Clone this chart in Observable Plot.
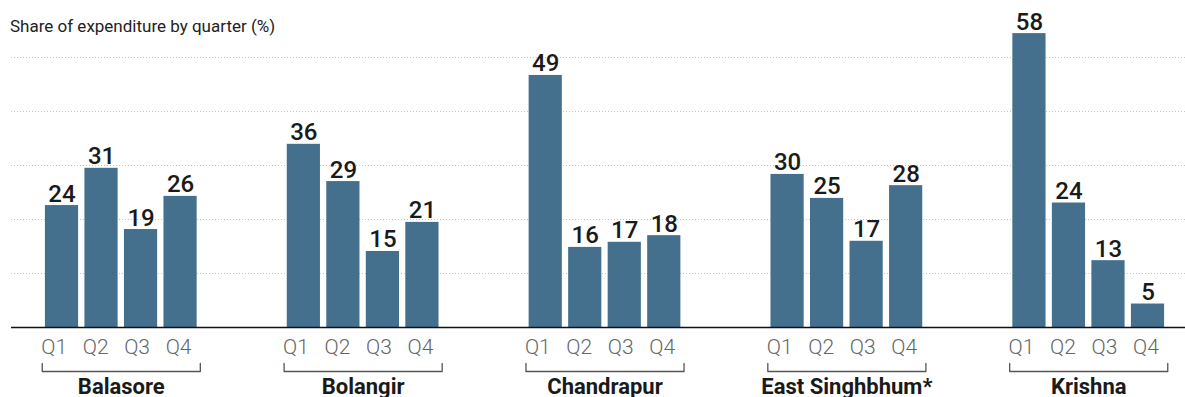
<!DOCTYPE html>
<html>
<head>
<meta charset="utf-8">
<script src="https://cdn.jsdelivr.net/npm/d3@7"></script>
<script src="https://cdn.jsdelivr.net/npm/@observablehq/plot@0.6"></script>
<style>
  body { margin: 0; background: #fff; }
  #chart { position: relative; width: 1185px; height: 397px; font-family: Roboto, "Noto Sans", sans-serif; }
  #title { position: absolute; left: 10px; top: 16px; font-size: 17px; color: #222; white-space: nowrap; }
  #chart svg { display: block; }
</style>
</head>
<body>
<div id="chart"><div id="title">Share of expenditure by quarter (%)</div></div>
<script>
// ---- data ----
const districts = ["Balasore", "Bolangir", "Chandrapur", "East Singhbhum*", "Krishna"];
const quarters = ["Q1", "Q2", "Q3", "Q4"];
const balasore = [23.9, 31.2, 19.2, 25.7];
const bolangir = [35.9, 28.6, 14.9, 20.6];
const chandrapur = [49.4, 15.7, 16.7, 18.0];
const eastSinghbhum = [30.0, 25.3, 16.9, 27.8];
const krishna = [57.6, 24.4, 13.1, 4.6];
const series = [balasore, bolangir, chandrapur, eastSinghbhum, krishna];

// ---- layout constants ----
const W = 1185, H = 397;
const marginTop = 3, marginBottom = 70, marginLeft = 11, marginRight = 0;
const yMax = 63.5;
const plotH = H - marginTop - marginBottom;
const groupUnits = 6.12;       // slots per district group (4 bars + gap)
const barHalf = 0.42;          // half bar width in slot units
const bracketPad = 0.5;
const labelStep = 1.05, labelShift = -0.2;
const below = px => -px * yMax / plotH; // pixel offset below baseline, in y units
const gridTicks = d3.range(1, 6).map(k => yMax * k / 6);

const rows = districts.flatMap((d, g) => series[g].map((v, q) => ({
  district: d, quarter: quarters[q], value: v,
  pos: g * groupUnits + q,
  labelPos: g * groupUnits + q * labelStep + labelShift
})));
const groups = districts.map((d, g) => ({
  district: d, center: g * groupUnits + 1.5,
  x1: g * groupUnits - bracketPad, x2: g * groupUnits + 3 + bracketPad
}));
const bracketPts = groups.flatMap(g => [
  {district: g.district, x: g.x1, y: below(36)},
  {district: g.district, x: g.x1, y: below(44)},
  {district: g.district, x: g.x2, y: below(44)},
  {district: g.district, x: g.x2, y: below(36)}
]);

const chart = Plot.plot({
  width: W, height: H,
  marginTop, marginBottom, marginLeft, marginRight,
  style: {fontFamily: "Roboto, 'Noto Sans', sans-serif", background: "transparent", overflow: "visible"},
  x: {type: "linear", domain: [0, 4 * groupUnits + 3], range: [61.5, 1147.5], axis: null},
  y: {domain: [0, yMax], axis: null},
  marks: [
    Plot.ruleY(gridTicks, {stroke: "#c4c4c4", strokeWidth: 1, strokeDasharray: "1,2"}),
    Plot.rect(rows, {x1: d => d.pos - barHalf, x2: d => d.pos + barHalf, y1: 0, y2: "value", fill: "#44708e"}),
    Plot.ruleY([0], {stroke: "#111", strokeWidth: 1.4}),
    Plot.text(rows, {x: "pos", y: "value", text: d => String(Math.round(d.value)),
      lineAnchor: "bottom", dy: -4, fontSize: 24, fontWeight: 500, fill: "#1a1a1a"}),
    Plot.text(rows, {x: "labelPos", y: 0, text: "quarter",
      lineAnchor: "bottom", dy: 26, fontSize: 21, fontWeight: 300, fill: "#666"}),
    Plot.line(bracketPts, {x: "x", y: "y", z: "district", stroke: "#555", strokeWidth: 1.3}),
    Plot.text(groups, {x: "center", y: 0, text: "district",
      lineAnchor: "bottom", dy: 66, fontSize: 22, fontWeight: 700, fill: "#1a1a1a"})
  ]
});
document.getElementById("chart").appendChild(chart);
</script>
</body>
</html>
